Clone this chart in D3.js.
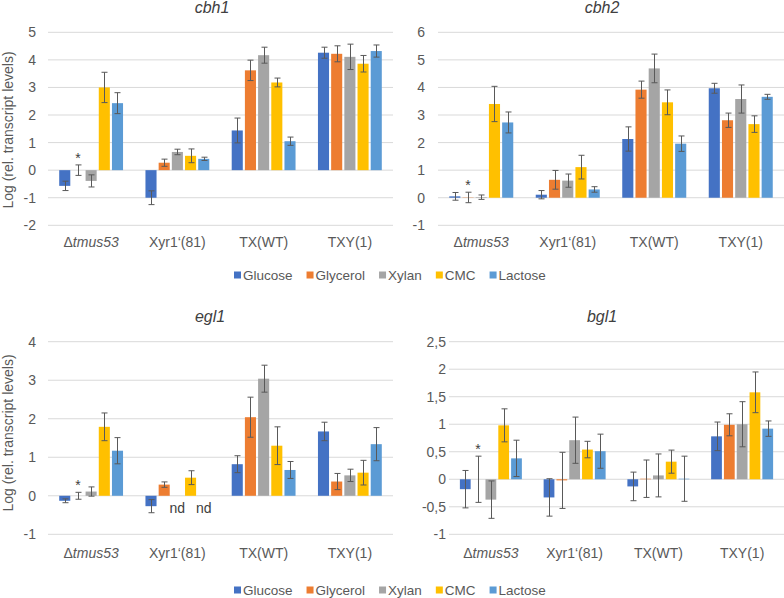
<!DOCTYPE html>
<html>
<head>
<meta charset="utf-8">
<script src="https://cdn.jsdelivr.net/npm/d3@7"></script>
<style>
  html, body { margin: 0; padding: 0; background: #fff; }
  svg { display: block; font-family: "Liberation Sans", Arial, sans-serif; }
</style>
</head>
<body>
<svg id="chart" width="784" height="598"></svg>
<script>
// ---------- DATA ----------
const categories = ["Δtmus53", "Xyr1‘(81)", "TX(WT)", "TXY(1)"];
const series = ["Glucose", "Glycerol", "Xylan", "CMC", "Lactose"];
const colors = ["#4472C4", "#ED7D31", "#A5A5A5", "#FFC000", "#5B9BD5"];

// rows = categories, columns = series
const cbh1Values = [
  [-0.57, 0.00, -0.39, 3.00, 2.43],
  [-1.00, 0.27, 0.66, 0.52, 0.41],
  [1.44, 3.62, 4.17, 3.18, 1.05],
  [4.26, 4.22, 4.11, 3.86, 4.32]
];
const cbh1Errors = [
  [0.17, 0.19, 0.22, 0.55, 0.38],
  [0.25, 0.13, 0.10, 0.25, 0.06],
  [0.45, 0.37, 0.29, 0.16, 0.15],
  [0.20, 0.29, 0.46, 0.30, 0.22]
];
const cbh2Values = [
  [0.05, 0.01, 0.02, 3.40, 2.73],
  [0.11, 0.65, 0.62, 1.11, 0.30],
  [2.13, 3.92, 4.69, 3.46, 1.96],
  [3.97, 2.81, 3.58, 2.67, 3.66]
];
const cbh2Errors = [
  [0.14, 0.19, 0.08, 0.64, 0.38],
  [0.15, 0.34, 0.24, 0.43, 0.10],
  [0.44, 0.31, 0.52, 0.45, 0.28],
  [0.18, 0.26, 0.51, 0.30, 0.09]
];
const egl1Values = [
  [-0.13, 0.00, 0.11, 1.79, 1.17],
  [-0.27, 0.29, null, 0.47, null],
  [0.82, 2.04, 3.04, 1.30, 0.67],
  [1.67, 0.37, 0.53, 0.60, 1.34]
];
const egl1Errors = [
  [0.05, 0.09, 0.12, 0.36, 0.34],
  [0.17, 0.07, null, 0.18, null],
  [0.22, 0.52, 0.35, 0.49, 0.22],
  [0.24, 0.21, 0.16, 0.32, 0.43]
];
const bgl1Values = [
  [-0.18, 0.00, -0.37, 0.98, 0.38],
  [-0.33, -0.02, 0.71, 0.54, 0.51],
  [-0.13, 0.01, 0.07, 0.32, 0.01],
  [0.78, 0.99, 1.00, 1.58, 0.92]
];
const bgl1Errors = [
  [0.34, 0.42, 0.34, 0.30, 0.33],
  [0.34, 0.51, 0.42, 0.15, 0.31],
  [0.26, 0.34, 0.39, 0.21, 0.41],
  [0.26, 0.20, 0.41, 0.37, 0.14]
];

const cbh1Ticks = [5, 4, 3, 2, 1, 0, -1, -2];
const cbh2Ticks = [6, 5, 4, 3, 2, 1, 0, -1];
const egl1Ticks = [4, 3, 2, 1, 0, -1];
const bgl1Ticks = [2.5, 2, 1.5, 1, 0.5, 0, -0.5, -1];
const bgl1TickLabels = ["2,5", "2", "1,5", "1", "0,5", "0", "-0,5", "-1"];

// asterisk over Glycerol in Δtmus53; "nd" labels for missing values
const starCategory = "Δtmus53", starSeries = "Glycerol";
const ndLabel = "nd";
const yAxisTitle = "Log (rel. transcript levels)";

// ---------- DRAW ----------
const svg = d3.select("#chart");
const textColor = "#595959";

function drawPanel(p) {
  const g = svg.append("g");
  const y = d3.scaleLinear().domain(p.domain).range([p.bottom, p.top]);
  const x0 = d3.scaleBand().domain(categories).range([p.left, p.right]);
  const bw = x0.bandwidth();
  const x1 = d3.scaleBand().domain(series).range([bw * 0.13, bw * 0.87]).paddingInner(0.16);

  // gridlines
  g.append("g").selectAll("line").data(p.ticks).join("line")
    .attr("x1", p.left).attr("x2", p.right)
    .attr("y1", d => y(d)).attr("y2", d => y(d))
    .attr("stroke", "#D9D9D9").attr("stroke-width", 1);

  // y axis
  const ax = g.append("g").attr("transform", `translate(${p.left},0)`)
    .call(d3.axisLeft(y).tickValues(p.ticks).tickSize(0).tickPadding(p.tickPad)
      .tickFormat((d, i) => p.tickLabels ? p.tickLabels[i] : String(d)));
  ax.select(".domain").remove();
  ax.selectAll("text").attr("fill", textColor).style("font-size", "14px")
    .style("font-family", '"Liberation Sans", Arial, sans-serif');

  // bars
  const flat = [];
  categories.forEach((c, ci) => series.forEach((s, si) => {
    flat.push({ c, s, si, v: p.values[ci][si], e: p.errors[ci][si] });
  }));
  const valid = flat.filter(d => d.v !== null);
  g.append("g").selectAll("rect").data(valid).join("rect")
    .attr("x", d => x0(d.c) + x1(d.s))
    .attr("width", x1.bandwidth())
    .attr("y", d => y(Math.max(0, d.v)))
    .attr("height", d => Math.abs(y(d.v) - y(0)))
    .attr("fill", d => colors[d.si]);

  // error bars
  const eg = g.append("g").attr("stroke", "#595959").attr("stroke-width", 1).attr("fill", "none");
  valid.forEach(d => {
    const cx = Math.round(x0(d.c) + x1(d.s) + x1.bandwidth() / 2) + 0.5;
    const yt = y(d.v + d.e), yb = y(d.v - d.e);
    eg.append("line").attr("x1", cx).attr("x2", cx).attr("y1", yt).attr("y2", yb);
    eg.append("line").attr("x1", cx - 3).attr("x2", cx + 3).attr("y1", yt).attr("y2", yt);
    eg.append("line").attr("x1", cx - 3).attr("x2", cx + 3).attr("y1", yb).attr("y2", yb);
  });

  // asterisk
  const sd = valid.find(d => d.c === starCategory && d.s === starSeries);
  if (sd) {
    g.append("text")
      .attr("x", x0(sd.c) + x1(sd.s) + x1.bandwidth() / 2)
      .attr("y", y(sd.v + sd.e) - 2)
      .attr("text-anchor", "middle").attr("fill", "#404040")
      .style("font-size", "14px").text("*");
  }

  // nd labels
  flat.filter(d => d.v === null).forEach(d => {
    g.append("text")
      .attr("x", x0(d.c) + x1(d.s) + x1.bandwidth() / 2)
      .attr("y", y(0) + 17)
      .attr("text-anchor", "middle").attr("fill", "#404040")
      .style("font-size", "14px").text(ndLabel);
  });

  // category labels
  const cl = g.append("g");
  categories.forEach(c => {
    const t = cl.append("text").attr("x", x0(c) + bw / 2).attr("y", p.catY)
      .attr("text-anchor", "middle").attr("fill", textColor).style("font-size", "14px");
    if (c.startsWith("Δ")) {
      t.append("tspan").text("Δ");
      t.append("tspan").style("font-style", "italic").text(c.slice(1));
    } else {
      t.text(c);
    }
  });

  // title
  g.append("text").attr("x", p.titleX).attr("y", p.titleY)
    .attr("text-anchor", "middle").attr("fill", "#404040")
    .style("font-size", "16px").style("font-style", "italic").text(p.title);

  // y axis title
  if (p.yTitleY) {
    g.append("text")
      .attr("transform", `translate(13,${p.yTitleY}) rotate(-90)`)
      .attr("text-anchor", "middle").attr("fill", textColor)
      .style("font-size", "14px").text(yAxisTitle);
  }
}

function drawLegend(yc) {
  const lg = svg.append("g");
  let x = 234;
  series.forEach((s, i) => {
    lg.append("rect").attr("x", x).attr("y", yc - 3.5).attr("width", 7).attr("height", 7)
      .attr("fill", colors[i]);
    const t = lg.append("text").attr("x", x + 9).attr("y", yc + 5)
      .attr("fill", textColor).style("font-size", "13.5px").text(s);
    x = x + 9 + t.node().getComputedTextLength() + 14;
  });
}

drawPanel({ title: "cbh1", values: cbh1Values, errors: cbh1Errors, ticks: cbh1Ticks,
  domain: [-2, 5], left: 48, right: 393, top: 32.3, bottom: 225.3, tickPad: 12,
  catY: 247, titleX: 212, titleY: 13, yTitleY: 130 });
drawPanel({ title: "cbh2", values: cbh2Values, errors: cbh2Errors, ticks: cbh2Ticks,
  domain: [-1, 6], left: 438, right: 784, top: 32.3, bottom: 225.3, tickPad: 13,
  catY: 247, titleX: 602, titleY: 13 });
drawPanel({ title: "egl1", values: egl1Values, errors: egl1Errors, ticks: egl1Ticks,
  domain: [-1, 4], left: 48, right: 393, top: 341.7, bottom: 534.3, tickPad: 12,
  catY: 558, titleX: 210, titleY: 322, yTitleY: 433 });
drawPanel({ title: "bgl1", values: bgl1Values, errors: bgl1Errors, ticks: bgl1Ticks,
  tickLabels: bgl1TickLabels,
  domain: [-1, 2.5], left: 449, right: 784, top: 341.7, bottom: 534.3, tickPad: 3,
  catY: 558, titleX: 602, titleY: 322 });

drawLegend(275);
drawLegend(590);
</script>
</body>
</html>
